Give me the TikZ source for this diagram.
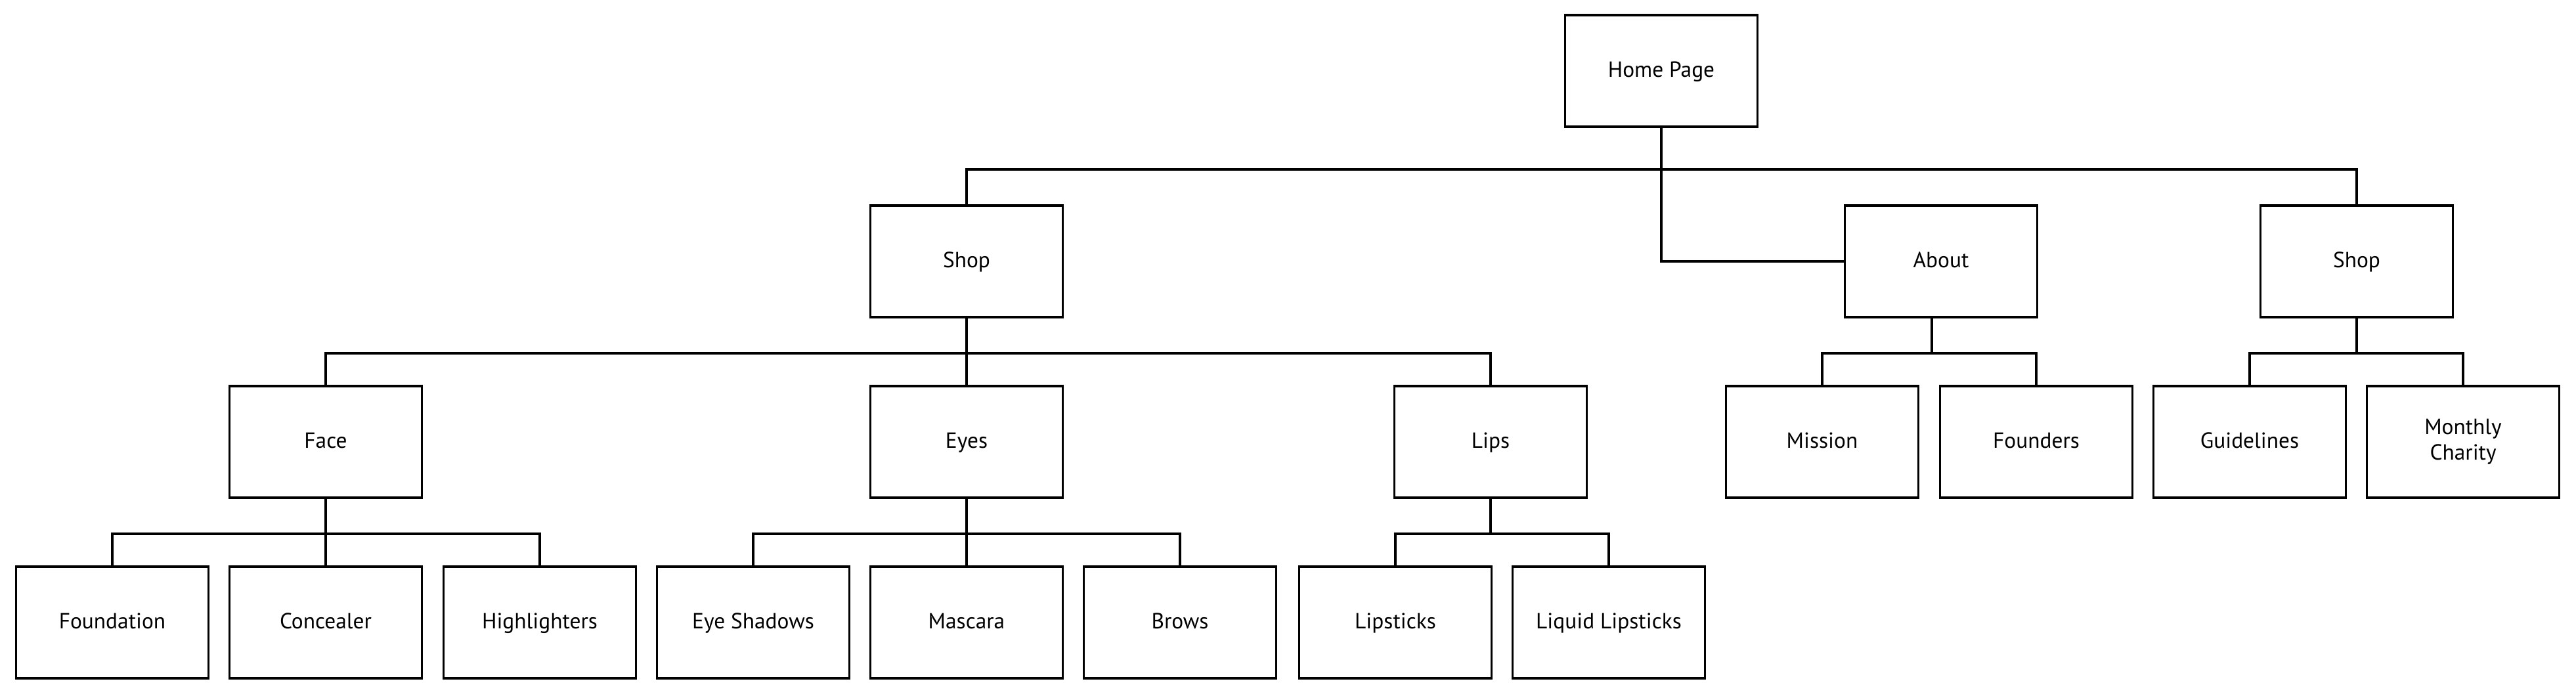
\documentclass[tikz,border=0pt]{standalone}
\usepackage{fontspec}
\setmainfont{PT Sans}
\tikzset{
  page/.style={draw,line width=1.1pt,minimum width=2.93cm,minimum height=1.70cm,inner sep=0pt,align=center,text height=1.6ex,text depth=0.5ex,font=\fontsize{9.5}{11}\selectfont},
  link/.style={line width=0.9pt}
}
\begin{document}
\begin{tikzpicture}
        \useasboundingbox (0,0) rectangle (39.23,-10.59);
        % level 0
        \node[page] (home) at (25.30,-1.08) {Home Page};
        % level 1
        \node[page] (shopa) at (14.72,-3.98) {Shop};
        \node[page] (about) at (29.56,-3.98) {About};
        \node[page] (shopb) at (35.89,-3.98) {Shop};
        % level 2
        \node[page] (face) at (4.96,-6.73) {Face};
        \node[page] (eyes) at (14.72,-6.73) {Eyes};
        \node[page] (lips) at (22.70,-6.73) {Lips};
        \node[page] (mission) at (27.75,-6.73) {Mission};
        \node[page] (founders) at (31.01,-6.73) {Founders};
        \node[page] (guidelines) at (34.26,-6.73) {Guidelines};
        \node[page,text height={},text depth={}] (charity) at (37.51,-6.73) {Monthly\\Charity};
        % level 3
        \node[page] (foundation) at (1.71,-9.48) {Foundation};
        \node[page] (concealer) at (4.96,-9.48) {Concealer};
        \node[page] (highlighters) at (8.22,-9.48) {Highlighters};
        \node[page] (shadows) at (11.47,-9.48) {Eye Shadows};
        \node[page] (mascara) at (14.72,-9.48) {Mascara};
        \node[page] (brows) at (17.97,-9.48) {Brows};
        \node[page] (lipsticks) at (21.25,-9.48) {Lipsticks};
        \node[page] (liquid) at (24.50,-9.48) {Liquid Lipsticks};
        % connectors
        \coordinate (topbar) at (25.30,-2.58);
        \draw[link] (home.south) |- (about.west);
        \draw[link] (shopa.north) |- (topbar) -| (shopb.north);
        \foreach \p/\c in {shopa/face,shopa/eyes,shopa/lips,face/foundation,face/concealer,face/highlighters,eyes/shadows,eyes/mascara,eyes/brows,lips/lipsticks,lips/liquid,shopb/guidelines,shopb/charity}
            \draw[link] (\p.south) -- ++(0,-0.53) -| (\c.north);
        \foreach \c in {mission,founders}
            \draw[link] ([xshift=-0.14cm]about.south) -- ++(0,-0.53) -| (\c.north);
\end{tikzpicture}
\end{document}
